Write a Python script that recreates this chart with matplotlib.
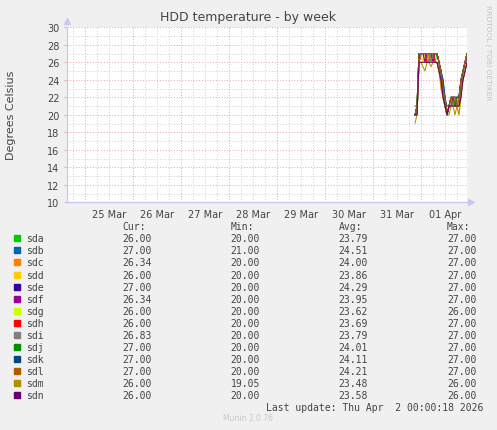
import matplotlib
matplotlib.use("Agg")
import matplotlib.pyplot as plt
from matplotlib.patches import Rectangle
from datetime import datetime, timedelta

# hourly samples, Mar 31 21:00 -> Apr 1 23:00
start = datetime(2026, 3, 31, 21)
times = [start + timedelta(hours=k) for k in range(27)]

drives = ["sda", "sdb", "sdc", "sdd", "sde", "sdf", "sdg",
          "sdh", "sdi", "sdj", "sdk", "sdl", "sdm", "sdn"]
colors = ["#00CC00", "#0066B3", "#FF8000", "#FFCC00", "#330099", "#990099", "#CCFF00",
          "#FF0000", "#808080", "#008F00", "#00487D", "#B35A00", "#B38F00", "#6B006B"]

sda = [20, 20, 26, 27, 27, 26, 27, 27, 26, 27, 26, 27, 26, 24, 23, 21, 20, 21, 21, 22, 21, 21, 21, 23, 24, 25, 26]
sdb = [21, 21, 27, 27, 27, 27, 27, 27, 27, 27, 27, 27, 26, 25, 24, 22, 21, 21, 22, 22, 22, 21, 22, 24, 25, 26, 27]
sdc = [20, 20, 26, 27, 27, 27, 26, 27, 27, 26, 27, 27, 26, 25, 23, 22, 20, 21, 22, 21, 22, 21, 22, 23, 25, 26, 26.34]
sdd = [20, 20, 26, 27, 26, 27, 27, 26, 27, 27, 26, 26, 25, 24, 22, 21, 20, 21, 21, 21, 22, 21, 21, 23, 24, 25, 26]
sde = [20, 21, 27, 27, 27, 27, 27, 27, 27, 27, 27, 27, 26, 25, 23, 22, 20, 21, 22, 22, 22, 22, 22, 24, 25, 26, 27]
sdf = [20, 20, 26, 27, 27, 26, 27, 27, 27, 26, 27, 27, 26, 24, 23, 21, 20, 21, 21, 22, 21, 22, 22, 23, 25, 26, 26.34]
sdg = [20, 20, 26, 26, 26, 26, 26, 26, 26, 26, 26, 26, 25, 24, 22, 21, 20, 21, 21, 21, 21, 21, 20, 22, 24, 25, 26]
sdh = [20, 20, 26, 27, 27, 27, 26, 26, 27, 27, 26, 26, 25, 24, 22, 21, 20, 21, 21, 22, 21, 21, 21, 23, 24, 25, 26]
sdi = [20, 20, 26, 27, 27, 27, 27, 26, 27, 27, 27, 27, 26, 24, 23, 21, 20, 21, 22, 21, 22, 21, 22, 23, 25, 26, 26.83]
sdj = [20, 21, 27, 27, 27, 27, 27, 27, 27, 27, 27, 27, 26, 25, 23, 22, 20, 21, 22, 22, 21, 22, 22, 24, 25, 26, 27]
sdk = [20, 21, 27, 27, 27, 27, 27, 27, 27, 27, 27, 27, 26, 25, 24, 22, 20, 21, 22, 22, 22, 22, 22, 24, 25, 26, 27]
sdl = [20, 21, 27, 27, 27, 27, 27, 27, 27, 27, 27, 27, 26, 25, 23, 22, 20, 21, 22, 22, 22, 21, 22, 24, 25, 26, 27]
sdm = [19.05, 20, 26, 26, 25.5, 25, 26, 26, 25.5, 26, 26, 26, 25, 23, 22, 21, 20, 20, 21, 21, 20, 21, 20, 22, 24, 25, 26]
sdn = [20, 20, 26, 26, 26, 26, 26, 26, 26, 26, 26, 26, 25, 24, 22, 21, 20, 21, 21, 21, 21, 21, 21, 22, 24, 25, 26]
series = [sda, sdb, sdc, sdd, sde, sdf, sdg, sdh, sdi, sdj, sdk, sdl, sdm, sdn]

cur = ["26.00", "27.00", "26.34", "26.00", "27.00", "26.34", "26.00",
       "26.00", "26.83", "27.00", "27.00", "27.00", "26.00", "26.00"]
mins = ["20.00", "21.00", "20.00", "20.00", "20.00", "20.00", "20.00",
        "20.00", "20.00", "20.00", "20.00", "20.00", "19.05", "20.00"]
avgs = ["23.79", "24.51", "24.00", "23.86", "24.29", "23.95", "23.62",
        "23.69", "23.79", "24.01", "24.11", "24.21", "23.48", "23.58"]
maxs = ["27.00", "27.00", "27.00", "27.00", "27.00", "27.00", "26.00",
        "27.00", "27.00", "27.00", "27.00", "27.00", "26.00", "26.00"]

day_labels = ["25 Mar", "26 Mar", "27 Mar", "28 Mar", "29 Mar", "30 Mar", "31 Mar", "01 Apr"]

W, H = 497, 431
fig = plt.figure(figsize=(W / 100, H / 100), dpi=100, facecolor="#F0F0F0")


def fx(x):
    return x / W


def fy(y):
    return 1 - y / H


txt = "#444444"
red_grid = "#E6AAAA"
gray_grid = "#D0D0D0"
ax = fig.add_axes([fx(67), fy(203.3), fx(400), 175 / H])
ax.set_facecolor("white")

t0 = datetime(2026, 3, 24, 15)
t1 = datetime(2026, 4, 1, 23)
ax.set_xlim(t0, t1)
ax.set_ylim(10, 30)

# grid, dotted like rrdtool
for v in range(11, 31):
    c = red_grid if v % 2 == 0 else gray_grid
    ax.axhline(v, color=c, lw=0.72, ls=(0, (1, 1.8)), zorder=1)
t = datetime(2026, 3, 24, 18)
while t < t1:
    c = red_grid if t.hour == 0 else gray_grid
    ax.axvline(t, color=c, lw=0.72, ls=(0, (1, 1.8)), zorder=1)
    t += timedelta(hours=6)

for vals, col in zip(series, colors):
    ax.plot(times, vals, color=col, lw=0.75, zorder=3)

noons = [datetime(2026, 3, 25, 12) + timedelta(days=i) for i in range(8)]
ax.set_xticks(noons)
ax.set_xticklabels(day_labels)
ax.set_yticks(range(10, 31, 2))
ax.tick_params(axis="x", length=0, pad=5, labelsize=7, labelcolor=txt)
ax.tick_params(axis="y", length=2.5, width=0.7, color=red_grid, pad=3, labelsize=7, labelcolor=txt)

for s in ["top", "right"]:
    ax.spines[s].set_visible(False)
for s in ["left", "bottom"]:
    ax.spines[s].set_color("#C8C8F5")
    ax.spines[s].set_linewidth(0.9)
ax.plot([0], [1.035], marker="^", ms=5, color="#C8C8F5", transform=ax.transAxes, clip_on=False)
ax.plot([1.01], [0], marker=">", ms=5, color="#C8C8F5", transform=ax.transAxes, clip_on=False)

fig.text(fx(248), fy(18), "HDD temperature - by week", ha="center", va="center",
         fontsize=9, color=txt)
fig.text(fx(11), fy(115), "Degrees Celsius", rotation=90, ha="center", va="center",
         fontsize=8, color=txt)
fig.text(fx(488), fy(53), "RRDTOOL / TOBI OETIKER", rotation=-90, ha="center", va="center",
         fontsize=5.4, color="#C4C4C4")

mono = "DejaVu Sans Mono"
hy = 227
for x, lab in zip([122.7, 230.7, 338.7, 446.7], ["Cur:", "Min:", "Avg:", "Max:"]):
    fig.text(fx(x), fy(hy), lab, ha="left", va="center", fontsize=7, family=mono, color=txt)

for i, name in enumerate(drives):
    y = 239.4 + i * 12.04
    fig.patches.append(Rectangle((fx(14), fy(y + 3)), fx(6), 6 / H, color=colors[i],
                                 transform=fig.transFigure, figure=fig))
    fig.text(fx(26), fy(y), name, ha="left", va="center", fontsize=7, family=mono, color=txt)
    for x, col in zip([152, 260, 368, 477], [cur, mins, avgs, maxs]):
        fig.text(fx(x), fy(y), col[i], ha="right", va="center", fontsize=7, family=mono, color=txt)

fig.text(fx(483), fy(407.7), "Last update: Thu Apr  2 00:00:18 2026", ha="right", va="center",
         fontsize=7, family=mono, color=txt)
fig.text(fx(248), fy(419), "Munin 2.0.76", ha="center", va="center", fontsize=5.5, color="#C8C8C8")

fig.savefig("out.png", dpi=100, facecolor=fig.get_facecolor())
